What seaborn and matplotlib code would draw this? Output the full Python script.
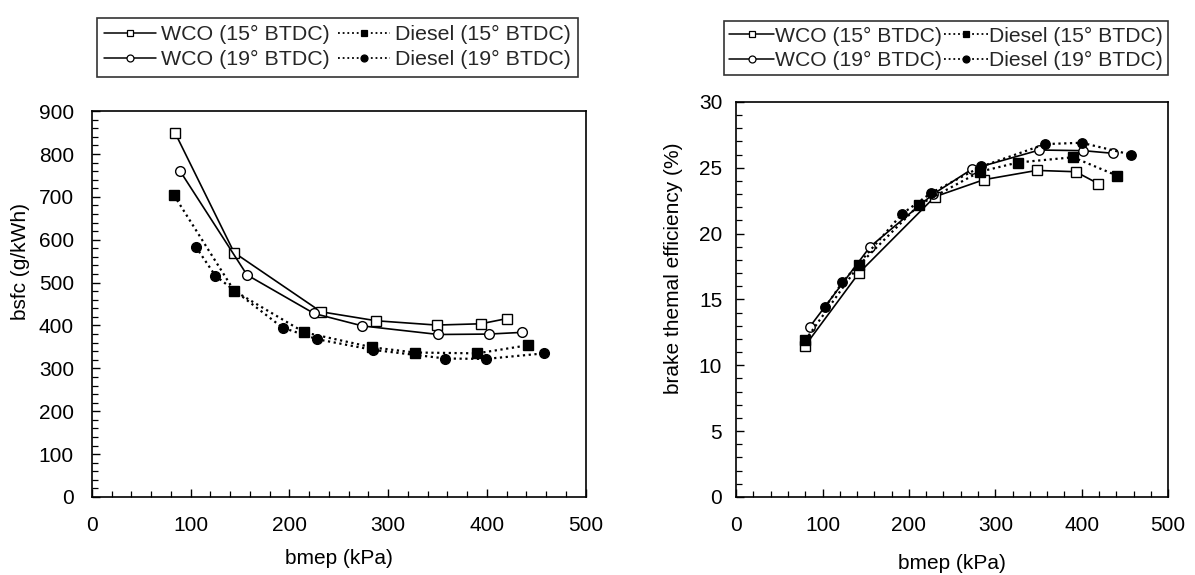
import matplotlib
matplotlib.use("Agg")
import matplotlib.pyplot as plt
from matplotlib.lines import Line2D
from matplotlib.ticker import MultipleLocator
import seaborn as sns

# ---- data: bsfc (left panel) ----
wco15_x = [84, 144, 232, 288, 349, 394, 420]
wco15_bsfc = [850, 570, 432, 411, 401, 404, 416]
wco19_x = [89, 157, 225, 274, 351, 402, 436]
wco19_bsfc = [761, 518, 428, 399, 379, 380, 384]
d15_x = [83, 144, 215, 284, 327, 390, 442]
d15_bsfc = [704, 481, 384, 349, 337, 335, 354]
d19_x = [105, 125, 193, 228, 285, 358, 399, 458]
d19_bsfc = [584, 516, 395, 368, 343, 323, 322, 335]

# ---- data: brake thermal efficiency (right panel) ----
wco15_x_r = [80, 142, 230, 287, 348, 393, 419]
wco15_bte = [11.5, 17.0, 22.8, 24.1, 24.8, 24.7, 23.8]
wco19_x_r = [85, 155, 228, 273, 351, 402, 436]
wco19_bte = [12.9, 19.0, 23.0, 24.9, 26.35, 26.3, 26.1]
d15_x_r = [80, 142, 212, 282, 326, 390, 441]
d15_bte = [11.9, 17.6, 22.2, 24.7, 25.4, 25.8, 24.4]
d19_x_r = [103, 123, 192, 226, 284, 358, 400, 457]
d19_bte = [14.4, 16.3, 21.5, 23.1, 25.1, 26.8, 26.9, 26.0]

labels = ["WCO (15° BTDC)", "WCO (19° BTDC)", "Diesel (15° BTDC)", "Diesel (19° BTDC)"]
x_ticks = [0, 100, 200, 300, 400, 500]

sns.set_theme(style="white")
plt.rcParams["font.family"] = ["Liberation Sans", "DejaVu Sans"]

fig = plt.figure(figsize=(11.95, 5.75), dpi=100)
axL = fig.add_axes([0.077, 0.1357, 0.413, 0.671])
axR = fig.add_axes([0.616, 0.1357, 0.3615, 0.687])

DOT = (0, (1.0, 1.6))
styles = [
    dict(linestyle="-", marker="s", markerfacecolor="white"),
    dict(linestyle="-", marker="o", markerfacecolor="white"),
    dict(linestyle=DOT, marker="s", markerfacecolor="black"),
    dict(linestyle=DOT, marker="o", markerfacecolor="black"),
]

def draw(ax, series, ms):
    for (xs, ys), st in zip(series, styles):
        lw = 1.2 if st["linestyle"] == "-" else 1.6
        sns.lineplot(x=xs, y=ys, ax=ax, color="black", linewidth=lw,
                     linestyle=st["linestyle"], marker=st["marker"],
                     markerfacecolor=st["markerfacecolor"], markeredgecolor="black",
                     markersize=ms, markeredgewidth=1.0, sort=False, legend=False)

draw(axL, [(wco15_x, wco15_bsfc), (wco19_x, wco19_bsfc), (d15_x, d15_bsfc), (d19_x, d19_bsfc)], 7)
draw(axR, [(wco15_x_r, wco15_bte), (wco19_x_r, wco19_bte), (d15_x_r, d15_bte), (d19_x_r, d19_bte)], 6.8)

for ax in (axL, axR):
    ax.set_xlim(0, 500)
    ax.set_xticks(x_ticks)
    ax.xaxis.set_minor_locator(MultipleLocator(20))
    for s in ax.spines.values():
        s.set_color("black")
        s.set_linewidth(1.2)
    ax.tick_params(which="both", direction="in", bottom=True, left=True, top=False, right=False,
                   color="black", labelsize=15, labelcolor="black")
    ax.tick_params(which="major", length=6, width=1.0)
    ax.tick_params(which="minor", length=4, width=0.9)
    ax.tick_params(axis="x", which="major", pad=14)
    ax.set_xlabel("bmep (kPa)", fontsize=15, color="black")

axL.set_ylim(0, 900)
axL.set_yticks(range(0, 901, 100))
axL.yaxis.set_minor_locator(MultipleLocator(20))
axL.tick_params(axis="y", which="major", pad=13)
axL.set_ylabel("bsfc (g/kWh)", fontsize=15, color="black")
axL.yaxis.set_label_coords(-0.125, 0.61)
axL.xaxis.set_label_coords(0.5, -0.135)

axR.set_ylim(0, 30)
axR.set_yticks(range(0, 31, 5))
axR.yaxis.set_minor_locator(MultipleLocator(1))
axR.tick_params(axis="y", which="major", pad=10)
axR.set_ylabel("brake themal efficiency (%)", fontsize=15, color="black")
axR.yaxis.set_label_coords(-0.123, 0.58)
axR.xaxis.set_label_coords(0.5, -0.145)

def handles():
    hs = []
    for st in styles:
        lw = 1.1 if st["linestyle"] == "-" else 1.3
        hs.append(Line2D([], [], color="black", linewidth=lw, linestyle=st["linestyle"],
                         marker=st["marker"], markerfacecolor=st["markerfacecolor"],
                         markeredgecolor="black", markersize=5, markeredgewidth=0.9))
    return hs

legL = axL.legend(handles(), labels, ncol=2, loc="upper left", bbox_to_anchor=(0.081, 0.969),
                  bbox_transform=fig.transFigure, fontsize=15.4, frameon=True, fancybox=False,
                  edgecolor="black", handlelength=2.4, handletextpad=0.25, columnspacing=0.4,
                  labelspacing=0.28, borderpad=0.35, borderaxespad=0)
legL.get_frame().set_linewidth(1.2)

legR = axR.legend(handles(), labels, ncol=2, loc="upper left", bbox_to_anchor=(0.606, 0.963),
                  bbox_transform=fig.transFigure, fontsize=15.2, frameon=True, fancybox=False,
                  edgecolor="black", handlelength=2.1, handletextpad=0.05, columnspacing=0.1,
                  labelspacing=0.25, borderpad=0.25, borderaxespad=0)
legR.get_frame().set_linewidth(1.2)

fig.savefig("out.png", dpi=100, facecolor="white")
